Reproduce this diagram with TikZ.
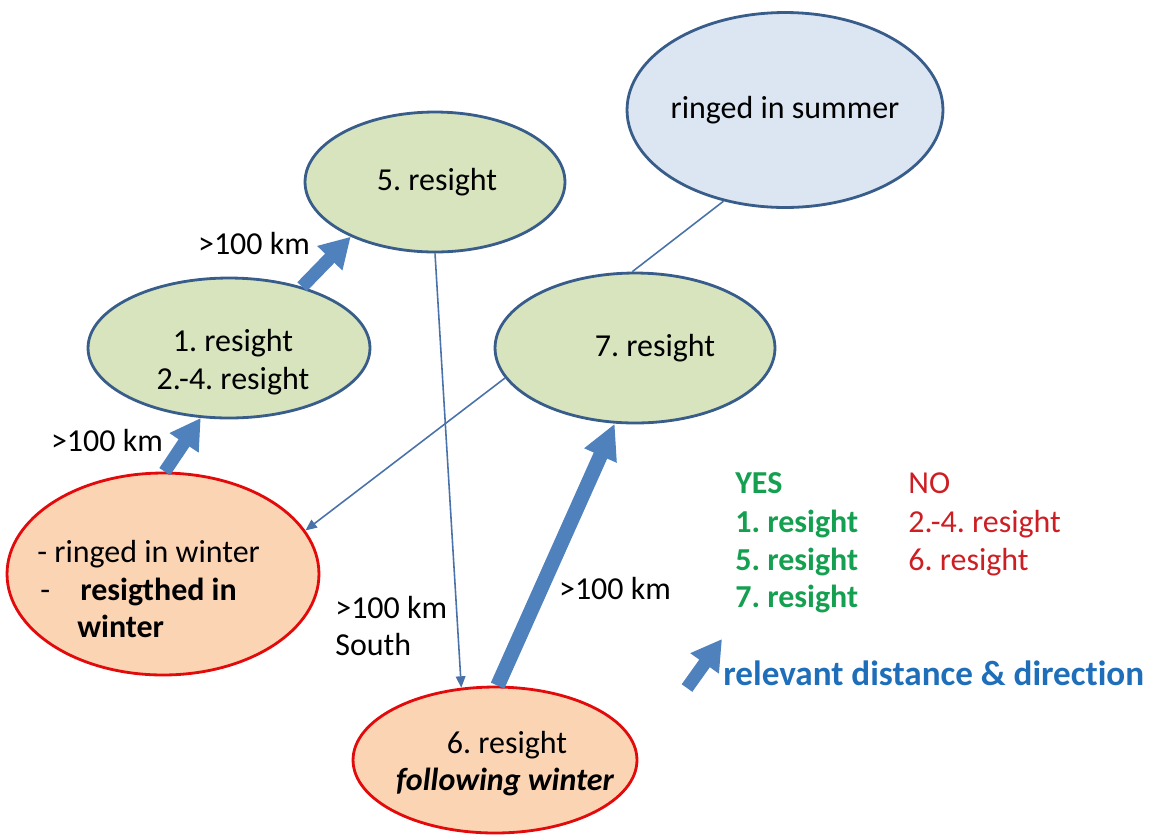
\documentclass[tikz,border=0pt]{standalone}
\usepackage{fontspec}
\setmainfont{Carlito}[Ligatures=NoCommon]
\frenchspacing
\usetikzlibrary{shapes.geometric,arrows.meta}
\definecolor{bordblue}{RGB}{56,93,138}
\definecolor{bordred}{RGB}{226,10,10}
\definecolor{greenfill}{RGB}{215,228,189}
\definecolor{bluefill}{RGB}{220,230,242}
\definecolor{orangefill}{RGB}{251,212,180}
\definecolor{arrowblue}{RGB}{79,129,189}
\definecolor{linkblue}{RGB}{74,114,170}
\definecolor{yesgreen}{RGB}{20,160,80}
\definecolor{nored}{RGB}{205,30,35}
\definecolor{legblue}{RGB}{30,110,185}
\begin{document}
\frenchspacing
\begin{tikzpicture}[x=0.02cm,y=-0.02cm,
  ell/.style={ellipse, draw=bordblue, line width=1.6pt, inner sep=0pt},
  greenell/.style={ell, fill=greenfill},
  blueell/.style={ell, fill=bluefill},
  orangeell/.style={ell, draw=bordred, fill=orangefill},
  txt/.style={font=\fontsize{18.2}{21.6}\selectfont\frenchspacing, inner sep=0pt, text=black},
  bigarrow/.style={draw=arrowblue, line width=7.4pt, -{Triangle[width=0.66cm,length=0.6cm]}},
  longarrow/.style={draw=arrowblue, line width=8.4pt, -{Triangle[width=0.66cm,length=0.7cm]}},
  thinarrow/.style={draw=linkblue, line width=0.9pt, -{Triangle[width=5.5pt,length=6.5pt]}},
  thinline/.style={draw=linkblue, line width=0.9pt}
]
\useasboundingbox (0,0) rectangle (1152,836);

% ellipses
\node[blueell, minimum width=6.32cm, minimum height=3.9cm] (summer) at (785,110) {};
\node[greenell, minimum width=5.2cm, minimum height=2.8cm] (five) at (435,182) {};
\node[greenell, minimum width=5.64cm, minimum height=2.8cm] (one) at (229,348) {};
\node[greenell, minimum width=5.6cm, minimum height=3.0cm] (seven) at (635,348) {};
\node[orangeell, minimum width=6.24cm, minimum height=4.04cm] (winter) at (163,574) {};
\node[orangeell, minimum width=5.68cm, minimum height=2.92cm] (six) at (495,760) {};

% texts inside ellipses
\node[txt] (tsummer) at (785,110) {ringed in summer};
\node[txt] (tfive) at (437,182) {5. resight};
\node[txt, align=center] (tone) at (233,362) {1. resight\\2.-4. resight};
\node[txt] (tseven) at (655,348) {7. resight};
\node[txt, anchor=base west] (tw1) at (37,562) {- ringed in winter};
\node[txt, anchor=base west] (tw2) at (40,600) {-};
\node[txt, anchor=base west, font=\fontsize{18.2}{21.6}\selectfont\bfseries] (tw3) at (80,600) {resigthed in};
\node[txt, anchor=base west, font=\fontsize{18.2}{21.6}\selectfont\bfseries] (tw4) at (77,637) {winter};
\node[txt] (tsix1) at (507,745) {6. resight};
\node[txt, font=\fontsize{18.2}{21.6}\selectfont\bfseries\itshape] (tsix2) at (505,782) {following winter};

% connectors
\draw[bigarrow] (winter.89) -- (one.248);
\draw[bigarrow] (one.40) -- (five.213);
\draw[longarrow] (six.88) -- (seven.255);
\draw[thinarrow] (five.270) -- (six.115);
\draw[thinline] (summer.236) -- (seven.92);
\draw[thinarrow] (seven.193) -- (winter.17);

% distance labels
\node[txt] (l1) at (254,243) {>100 km};
\node[txt] (l2) at (107,440) {>100 km};
\node[txt, align=left, anchor=west] (l3) at (335,626) {>100 km\\South};
\node[txt] (l4) at (615,588) {>100 km};

% legend
\node[txt, anchor=base west, text=yesgreen, font=\fontsize{18.2}{21.6}\selectfont\bfseries] (yes) at (735,493) {YES};
\node[txt, anchor=base west, text=yesgreen, font=\fontsize{18.2}{21.6}\selectfont\bfseries] (y1) at (735,532) {1. resight};
\node[txt, anchor=base west, text=yesgreen, font=\fontsize{18.2}{21.6}\selectfont\bfseries] (y5) at (735,570) {5. resight};
\node[txt, anchor=base west, text=yesgreen, font=\fontsize{18.2}{21.6}\selectfont\bfseries] (y7) at (735,607) {7. resight};
\node[txt, anchor=base west, text=nored] (no) at (908,493) {NO};
\node[txt, anchor=base west, text=nored] (n24) at (908,532) {2.-4. resight};
\node[txt, anchor=base west, text=nored] (n6) at (908,570) {6. resight};

\coordinate (legtail) at (687,688);
\coordinate (leghead) at (722,639);
\draw[bigarrow] (legtail) -- (leghead);
\node[txt, anchor=base west, text=legblue, font=\fontsize{20}{24}\selectfont\bfseries] (leg) at (723,685) {relevant distance \& direction};
\end{tikzpicture}
\end{document}
